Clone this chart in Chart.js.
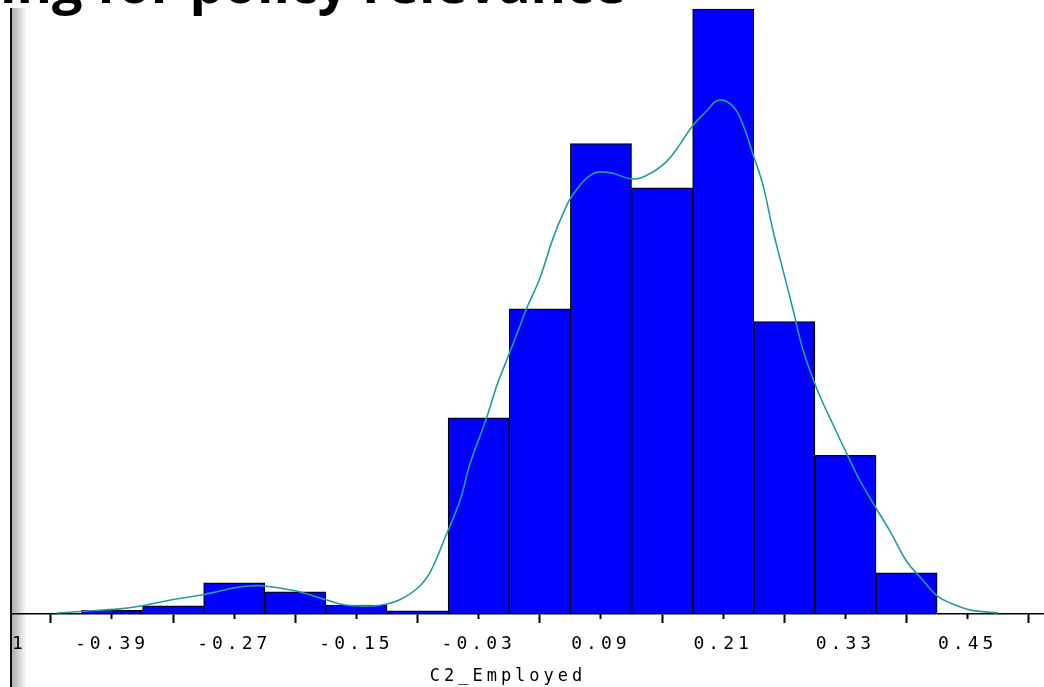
<!DOCTYPE html>
<html lang="en">
<head>
<meta charset="UTF-8">
<title>C2_Employed</title>
<script src="https://cdn.jsdelivr.net/npm/chart.js@4.4.0/dist/chart.umd.min.js"></script>
<style>
  html, body { margin: 0; padding: 0; background: #fff; }
  #wrap { position: relative; width: 1044px; height: 687px; overflow: hidden; background: #fff; }
  #hist { position: absolute; left: -68px; top: 0; }
  /* slide frame on the left: white strip, dark edge and its soft shadow */
  #panel { position: absolute; left: 0; top: 0; width: 11px; height: 687px; background: #fff; }
  #edge { position: absolute; left: 10px; top: 8px; width: 2px; height: 679px; background: #111; }
  #shade { position: absolute; left: 12px; top: 8px; width: 15px; height: 679px;
           background: linear-gradient(to right, rgba(0,0,0,.32), rgba(0,0,0,0)); }
  #heading { position: absolute; left: 0; top: -45px; font: bold 54px 'Open Sans'; line-height: 1;
             white-space: nowrap; color: #000; }
</style>
</head>
<body>
<div id="wrap">
  <canvas id="hist" width="1112" height="687"></canvas>
  <div id="panel"></div>
  <div id="edge"></div>
  <div id="shade"></div>
  <div id="heading">ing for policy relevance</div>
</div>

<script>
// histogram bins (midpoints) and percent of observations
const binMids = [-0.39, -0.33, -0.27, -0.21, -0.15, -0.09, -0.03, 0.03, 0.09, 0.15, 0.21, 0.27, 0.33, 0.39];
const binPct  = [0.14, 0.32, 1.21, 0.86, 0.35, 0.12, 7.62, 11.85, 18.27, 16.55, 23.50, 11.36, 6.16, 1.60];

// kernel density estimate, same percent scale
const kdeX = [-0.444, -0.421, -0.382, -0.363, -0.330, -0.302, -0.284, -0.271, -0.255, -0.241,
              -0.210, -0.180, -0.161, -0.135, -0.120, -0.107, -0.090, -0.078, -0.063, -0.048,
              -0.039, -0.022, -0.012, -0.002, 0.011, 0.017, 0.030, 0.043, 0.053, 0.063,
              0.082, 0.099, 0.121, 0.138, 0.155, 0.168, 0.180, 0.194, 0.205, 0.219,
              0.229, 0.239, 0.249, 0.259, 0.269, 0.279, 0.288, 0.302, 0.318, 0.332,
              0.344, 0.361, 0.374, 0.390, 0.403, 0.420, 0.433, 0.452, 0.480];
const kdeY = [0.04, 0.10, 0.20, 0.30, 0.56, 0.74, 0.89, 1.01, 1.09, 1.09,
              0.90, 0.55, 0.35, 0.31, 0.39, 0.56, 1.01, 1.60, 2.97, 4.45,
              5.78, 7.65, 8.90, 9.91, 11.24, 11.87, 13.04, 14.60, 15.57, 16.32,
              17.10, 17.14, 16.90, 17.10, 17.60, 18.27, 18.97, 19.55, 19.95, 19.75,
              19.05, 17.88, 16.67, 14.87, 13.31, 11.75, 10.30, 8.74, 7.34, 6.17,
              5.20, 4.05, 3.20, 2.05, 1.45, 0.70, 0.43, 0.16, 0.04];

// axis ticks: labelled ones at bin midpoints, short ones in between
const labelTicks = [-0.51, -0.39, -0.27, -0.15, -0.03, 0.09, 0.21, 0.33, 0.45];
const minorTicks = [-0.45, -0.33, -0.21, -0.09, 0.03, 0.15, 0.27, 0.39, 0.51];

const xMin = -0.5274, xMax = 0.5249;
const yMax = 23.85;

const tickFont = { family: 'DejaVu Sans Mono', size: 18 };
const titleFont = { family: 'DejaVu Sans Mono', size: 17 };

// old SAS-style spaced lettering for axis text
const spacedText = {
  id: 'spacedText',
  beforeUpdate(chart) { chart.ctx.letterSpacing = '4px'; },
  beforeDraw(chart) { chart.ctx.letterSpacing = '4px'; }
};

const ctx = document.getElementById('hist').getContext('2d');
new Chart(ctx, {
  type: 'bar',
  data: {
    datasets: [
      {
        type: 'line',
        data: kdeX.map((x, i) => ({ x: x, y: kdeY[i] })),
        borderColor: '#229d9d',
        borderWidth: 1.6,
        pointRadius: 0,
        tension: 0.4,
        fill: false,
        order: 0
      },
      {
        type: 'bar',
        data: binMids.map((x, i) => ({ x: x, y: binPct[i] })),
        backgroundColor: '#0000ff',
        borderColor: '#000',
        borderWidth: 1.2,
        borderSkipped: false,
        barPercentage: 1,
        categoryPercentage: 1,
        order: 1
      }
    ]
  },
  options: {
    responsive: false,
    animation: false,
    layout: { padding: { left: 40, right: 0, top: 0, bottom: 0 } },
    plugins: { legend: { display: false }, tooltip: { enabled: false } },
    scales: {
      x: {
        type: 'linear',
        position: 'bottom',
        min: xMin,
        max: xMax,
        offset: false,
        afterBuildTicks: s => { s.ticks = labelTicks.map(v => ({ value: v })); },
        grid: { drawOnChartArea: false, tickLength: 9, tickColor: '#000', tickWidth: 2 },
        border: { color: '#000', width: 1.5 },
        ticks: {
          autoSkip: false, maxRotation: 0, padding: 11, color: '#000', font: tickFont,
          callback: v => v.toFixed(2)
        },
        title: {
          display: true, text: 'C2_Employed', color: '#000', font: titleFont,
          padding: { top: 0, bottom: 0 }
        }
      },
      xMinor: {
        type: 'linear',
        position: { y: 0 },
        min: xMin,
        max: xMax,
        offset: false,
        afterBuildTicks: s => { s.ticks = minorTicks.map(v => ({ value: v })); },
        grid: { drawOnChartArea: false, tickLength: 5, tickColor: '#000', tickWidth: 2 },
        border: { display: false },
        ticks: { display: false }
      },
      y: {
        display: false,
        min: 0,
        max: yMax
      }
    }
  },
  plugins: [spacedText]
});
</script>
</body>
</html>
